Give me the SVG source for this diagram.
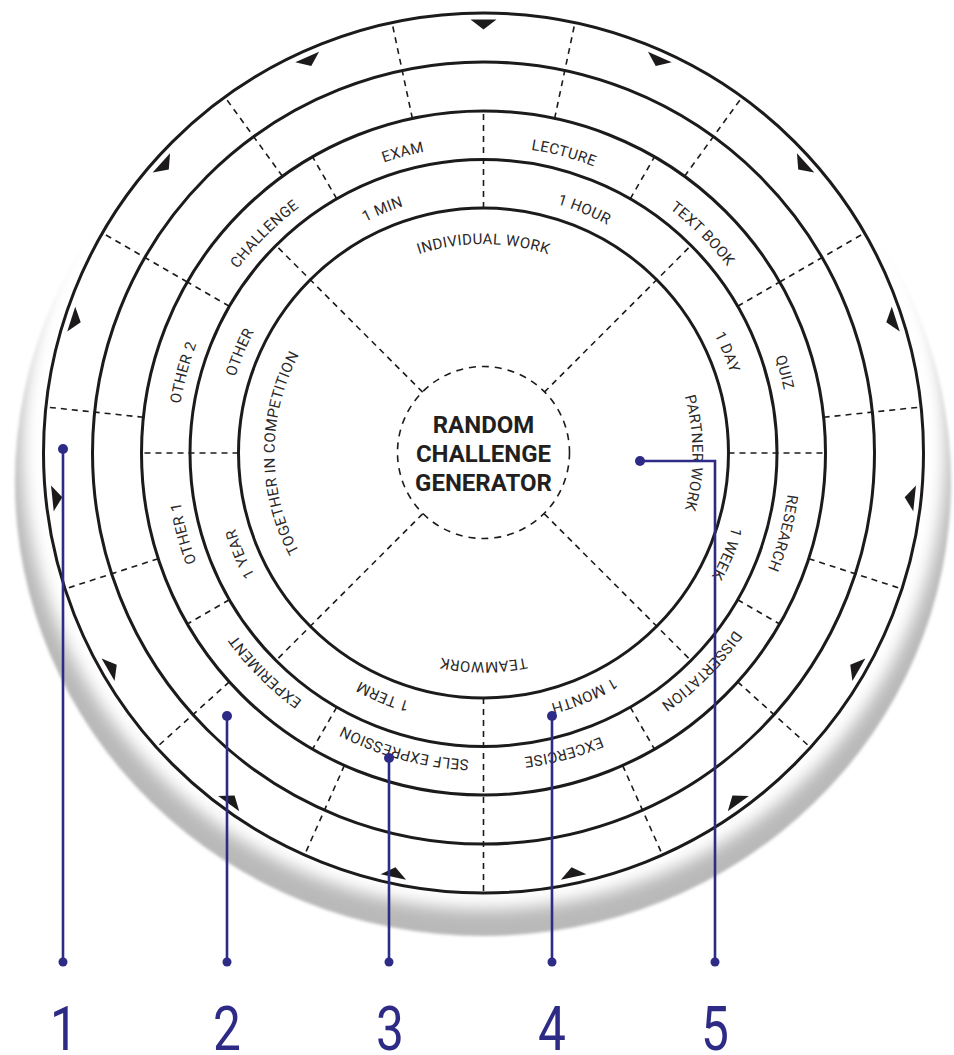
<svg xmlns="http://www.w3.org/2000/svg" xmlns:xlink="http://www.w3.org/1999/xlink" width="954" height="1055" viewBox="0 0 954 1055">
<style>
.ring{fill:none;stroke:#1c1a1b;stroke-width:3}
.div{stroke:#1c1a1b;stroke-width:1.6;stroke-dasharray:6 5;fill:none}
.lbl{font-family:Roboto,"Liberation Sans",sans-serif;font-size:15px;fill:#2a2829;letter-spacing:0.4px}
.title{font-family:Roboto,"Liberation Sans",sans-serif;font-size:24px;font-weight:700;fill:#231f20;text-anchor:middle}
.co{stroke:#2e2b87;stroke-width:2.6;fill:none}
.dot{fill:#2e2b87}
.num{font-family:Roboto,"Liberation Sans",sans-serif;font-size:62px;fill:#2e2b87;text-anchor:middle}
</style>
<defs>
<filter id="soft" x="-10%" y="-10%" width="120%" height="120%"><feGaussianBlur stdDeviation="8"/></filter>
<filter id="edge" x="-5%" y="-5%" width="110%" height="110%"><feGaussianBlur stdDeviation="1.5"/></filter>
<polygon id="tri" points="470.5,19.5 496.5,19.5 483.5,29.5" fill="#1c1a1b"/>
<path id="pI" d="M483.5 662 A209 209 0 1 1 483.5 244 A209 209 0 1 1 483.5 662"/>
<path id="pA" d="M483.5 712.5 A259.5 259.5 0 1 1 483.5 193.5 A259.5 259.5 0 1 1 483.5 712.5"/>
<path id="pB" d="M483.5 760 A307 307 0 1 1 483.5 146 A307 307 0 1 1 483.5 760"/>
</defs>

<g id="background">
<rect width="954" height="1055" fill="#fff"/>
<ellipse cx="483" cy="482" rx="468" ry="454" fill="#b9b9b9" filter="url(#edge)"/>
<circle cx="484" cy="447" r="462" fill="#fff" filter="url(#soft)"/>
</g>

<g id="rings">
<circle class="ring" cx="483.5" cy="453" r="440"/>
<circle class="ring" cx="483.5" cy="453" r="391"/>
<circle class="ring" cx="483.5" cy="453" r="342"/>
<circle class="ring" cx="483.5" cy="453" r="293.5"/>
<circle class="ring" cx="483.5" cy="453" r="245"/>
</g>

<g id="dividers">
<line class="div" x1="483.5" y1="208" x2="483.5" y2="111"/>
<line class="div" x1="483.5" y1="208" x2="483.5" y2="111" transform="rotate(90 483.5 453)"/>
<line class="div" x1="483.5" y1="208" x2="483.5" y2="111" transform="rotate(270 483.5 453)"/>
<line class="div" x1="483.5" y1="208" x2="483.5" y2="13" transform="rotate(180 483.5 453)"/>
<line class="div" x1="483.5" y1="367" x2="483.5" y2="159.5" transform="rotate(45 483.5 453)"/>
<line class="div" x1="483.5" y1="367" x2="483.5" y2="159.5" transform="rotate(135 483.5 453)"/>
<line class="div" x1="483.5" y1="367" x2="483.5" y2="159.5" transform="rotate(225 483.5 453)"/>
<line class="div" x1="483.5" y1="367" x2="483.5" y2="159.5" transform="rotate(315 483.5 453)"/>
<line class="div" x1="483.5" y1="159.5" x2="483.5" y2="111" transform="rotate(30 483.5 453)"/>
<line class="div" x1="483.5" y1="159.5" x2="483.5" y2="111" transform="rotate(60 483.5 453)"/>
<line class="div" x1="483.5" y1="159.5" x2="483.5" y2="111" transform="rotate(120 483.5 453)"/>
<line class="div" x1="483.5" y1="159.5" x2="483.5" y2="111" transform="rotate(150 483.5 453)"/>
<line class="div" x1="483.5" y1="159.5" x2="483.5" y2="111" transform="rotate(210 483.5 453)"/>
<line class="div" x1="483.5" y1="159.5" x2="483.5" y2="111" transform="rotate(240 483.5 453)"/>
<line class="div" x1="483.5" y1="159.5" x2="483.5" y2="111" transform="rotate(300 483.5 453)"/>
<line class="div" x1="483.5" y1="159.5" x2="483.5" y2="111" transform="rotate(330 483.5 453)"/>
<line class="div" x1="483.5" y1="111" x2="483.5" y2="13" transform="rotate(12 483.5 453)"/>
<line class="div" x1="483.5" y1="111" x2="483.5" y2="13" transform="rotate(36 483.5 453)"/>
<line class="div" x1="483.5" y1="111" x2="483.5" y2="13" transform="rotate(60 483.5 453)"/>
<line class="div" x1="483.5" y1="111" x2="483.5" y2="13" transform="rotate(84 483.5 453)"/>
<line class="div" x1="483.5" y1="111" x2="483.5" y2="13" transform="rotate(108 483.5 453)"/>
<line class="div" x1="483.5" y1="111" x2="483.5" y2="13" transform="rotate(132 483.5 453)"/>
<line class="div" x1="483.5" y1="111" x2="483.5" y2="13" transform="rotate(156 483.5 453)"/>
<line class="div" x1="483.5" y1="111" x2="483.5" y2="13" transform="rotate(204 483.5 453)"/>
<line class="div" x1="483.5" y1="111" x2="483.5" y2="13" transform="rotate(228 483.5 453)"/>
<line class="div" x1="483.5" y1="111" x2="483.5" y2="13" transform="rotate(252 483.5 453)"/>
<line class="div" x1="483.5" y1="111" x2="483.5" y2="13" transform="rotate(276 483.5 453)"/>
<line class="div" x1="483.5" y1="111" x2="483.5" y2="13" transform="rotate(300 483.5 453)"/>
<line class="div" x1="483.5" y1="111" x2="483.5" y2="13" transform="rotate(324 483.5 453)"/>
<line class="div" x1="483.5" y1="111" x2="483.5" y2="13" transform="rotate(348 483.5 453)"/>
</g>

<g id="pointers">
<use xlink:href="#tri"/>
<use xlink:href="#tri" transform="rotate(24 483.5 453)"/>
<use xlink:href="#tri" transform="rotate(48 483.5 453)"/>
<use xlink:href="#tri" transform="rotate(72 483.5 453)"/>
<use xlink:href="#tri" transform="rotate(96 483.5 453)"/>
<use xlink:href="#tri" transform="rotate(120 483.5 453)"/>
<use xlink:href="#tri" transform="rotate(144 483.5 453)"/>
<use xlink:href="#tri" transform="rotate(168 483.5 453)"/>
<use xlink:href="#tri" transform="rotate(192 483.5 453)"/>
<use xlink:href="#tri" transform="rotate(216 483.5 453)"/>
<use xlink:href="#tri" transform="rotate(240 483.5 453)"/>
<use xlink:href="#tri" transform="rotate(264 483.5 453)"/>
<use xlink:href="#tri" transform="rotate(288 483.5 453)"/>
<use xlink:href="#tri" transform="rotate(312 483.5 453)"/>
<use xlink:href="#tri" transform="rotate(336 483.5 453)"/>
</g>

<g id="work-modes" class="lbl">
<text transform="rotate(0 483.5 453)"><textPath xlink:href="#pI" startOffset="50%" text-anchor="middle">INDIVIDUAL WORK</textPath></text>
<text transform="rotate(90 483.5 453)"><textPath xlink:href="#pI" startOffset="50%" text-anchor="middle">PARTNER WORK</textPath></text>
<text transform="rotate(180 483.5 453)"><textPath xlink:href="#pI" startOffset="50%" text-anchor="middle">TEAMWORK</textPath></text>
<text transform="rotate(270 483.5 453)"><textPath xlink:href="#pI" startOffset="50%" text-anchor="middle">TOGETHER IN COMPETITION</textPath></text>
</g>

<g id="durations" class="lbl">
<text transform="rotate(-22.5 483.5 453)"><textPath xlink:href="#pA" startOffset="50%" text-anchor="middle">1 MIN</textPath></text>
<text transform="rotate(22.5 483.5 453)"><textPath xlink:href="#pA" startOffset="50%" text-anchor="middle">1 HOUR</textPath></text>
<text transform="rotate(67.5 483.5 453)"><textPath xlink:href="#pA" startOffset="50%" text-anchor="middle">1 DAY</textPath></text>
<text transform="rotate(112.5 483.5 453)"><textPath xlink:href="#pA" startOffset="50%" text-anchor="middle">1 WEEK</textPath></text>
<text transform="rotate(157.5 483.5 453)"><textPath xlink:href="#pA" startOffset="50%" text-anchor="middle">1 MONTH</textPath></text>
<text transform="rotate(202.5 483.5 453)"><textPath xlink:href="#pA" startOffset="50%" text-anchor="middle">1 TERM</textPath></text>
<text transform="rotate(247.5 483.5 453)"><textPath xlink:href="#pA" startOffset="50%" text-anchor="middle">1 YEAR</textPath></text>
<text transform="rotate(292.5 483.5 453)"><textPath xlink:href="#pA" startOffset="50%" text-anchor="middle">OTHER</textPath></text>
</g>

<g id="activities" class="lbl">
<text transform="rotate(-15 483.5 453)"><textPath xlink:href="#pB" startOffset="50%" text-anchor="middle">EXAM</textPath></text>
<text transform="rotate(15 483.5 453)"><textPath xlink:href="#pB" startOffset="50%" text-anchor="middle">LECTURE</textPath></text>
<text transform="rotate(45 483.5 453)"><textPath xlink:href="#pB" startOffset="50%" text-anchor="middle">TEXT BOOK</textPath></text>
<text transform="rotate(75 483.5 453)"><textPath xlink:href="#pB" startOffset="50%" text-anchor="middle">QUIZ</textPath></text>
<text transform="rotate(105 483.5 453)"><textPath xlink:href="#pB" startOffset="50%" text-anchor="middle">RESEARCH</textPath></text>
<text transform="rotate(135 483.5 453)"><textPath xlink:href="#pB" startOffset="50%" text-anchor="middle">DISSERTATION</textPath></text>
<text transform="rotate(165 483.5 453)"><textPath xlink:href="#pB" startOffset="50%" text-anchor="middle">EXCERCISE</textPath></text>
<text transform="rotate(195 483.5 453)"><textPath xlink:href="#pB" startOffset="50%" text-anchor="middle">SELF EXPRESSION</textPath></text>
<text transform="rotate(225 483.5 453)"><textPath xlink:href="#pB" startOffset="50%" text-anchor="middle">EXPERIMENT</textPath></text>
<text transform="rotate(255 483.5 453)"><textPath xlink:href="#pB" startOffset="50%" text-anchor="middle">OTHER 1</textPath></text>
<text transform="rotate(285 483.5 453)"><textPath xlink:href="#pB" startOffset="50%" text-anchor="middle">OTHER 2</textPath></text>
<text transform="rotate(315 483.5 453)"><textPath xlink:href="#pB" startOffset="50%" text-anchor="middle">CHALLENGE</textPath></text>
</g>

<g id="center">
<circle cx="483.5" cy="452.5" r="86" fill="none" stroke="#1c1a1b" stroke-width="1.6" stroke-dasharray="7 6"/>
<text class="title" x="483.5" y="433">RANDOM</text>
<text class="title" x="483.5" y="462">CHALLENGE</text>
<text class="title" x="483.5" y="491">GENERATOR</text>
</g>

<g id="callouts">
<line class="co" x1="63" y1="449" x2="63" y2="962"/>
<line class="co" x1="227" y1="716" x2="227" y2="962"/>
<line class="co" x1="389" y1="758" x2="389" y2="962"/>
<line class="co" x1="552" y1="716" x2="552" y2="962"/>
<polyline class="co" points="640,461 715,461 715,962"/>
<circle class="dot" cx="63" cy="449" r="5"/>
<circle class="dot" cx="227" cy="716" r="5"/>
<circle class="dot" cx="389" cy="758" r="5"/>
<circle class="dot" cx="552" cy="716" r="5"/>
<circle class="dot" cx="640" cy="461" r="5"/>
<circle class="dot" cx="63" cy="962" r="4.5"/>
<circle class="dot" cx="227" cy="962" r="4.5"/>
<circle class="dot" cx="389" cy="962" r="4.5"/>
<circle class="dot" cx="552" cy="962" r="4.5"/>
<circle class="dot" cx="715" cy="962" r="4.5"/>
</g>

<g id="numbers">
<text class="num" transform="translate(64 1050) scale(0.8 1)">1</text>
<text class="num" transform="translate(227 1050) scale(0.8 1)">2</text>
<text class="num" transform="translate(390 1050) scale(0.8 1)">3</text>
<text class="num" transform="translate(552 1050) scale(0.8 1)">4</text>
<text class="num" transform="translate(715 1050) scale(0.8 1)">5</text>
</g>
</svg>
